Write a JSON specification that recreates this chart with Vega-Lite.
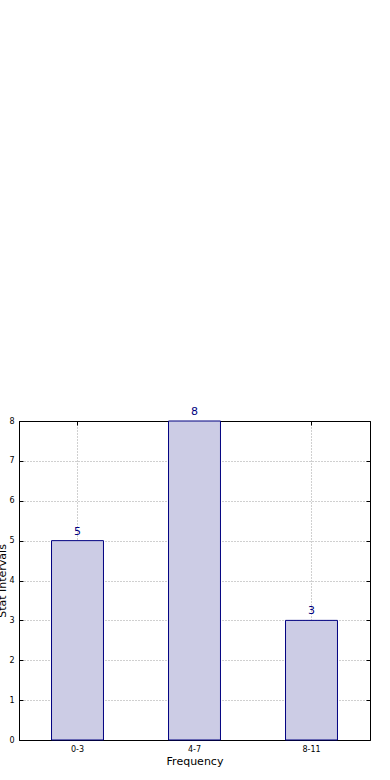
{
  "$schema": "https://vega.github.io/schema/vega-lite/v6.json",
  "autosize": {"type": "none"},
  "padding": {"left": 19, "top": 421, "right": 20, "bottom": 40},
  "width": 351,
  "height": 319,
  "data": {"values": [
    {"interval": "0-3", "count": 5},
    {"interval": "4-7", "count": 8},
    {"interval": "8-11", "count": 3}
  ]},
  "config": {
    "font": "DejaVu Sans",
    "view": {"stroke": "#000000", "strokeWidth": 1},
    "axis": {
      "domain": true,
      "domainColor": "#000000",
      "domainWidth": 1,
      "grid": false,
      "gridColor": "#a0a0a0",
      "gridDash": [1, 2],
      "gridWidth": 1,
      "tickColor": "#000000",
      "tickSize": -4,
      "labelColor": "#000000",
      "labelFontSize": 8,
      "titleFontSize": 11,
      "titleFontWeight": "normal",
      "titleColor": "#000000",
      "zindex": 1
    }
  },
  "resolve": {"axis": {"x": "independent", "y": "independent"}},
  "layer": [
    {
      "mark": {"type": "bar", "fill": "#ccccE5", "stroke": "#000080", "strokeWidth": 1},
      "encoding": {
        "x": {
          "field": "interval",
          "type": "nominal",
          "sort": null,
          "scale": {"paddingInner": 0.556, "paddingOuter": 0.278},
          "axis": {"title": "Frequency", "orient": "bottom", "grid": true, "labelAngle": 0, "labelPadding": 9, "titlePadding": 2}
        },
        "y": {
          "field": "count",
          "type": "quantitative",
          "scale": {"domain": [0, 8], "nice": false},
          "axis": {"title": "Stat Intervals", "orient": "left", "values": [0,1,2,3,4,5,6,7,8], "labelPadding": 9, "titlePadding": 1}
        }
      }
    },
    {
      "mark": {"type": "text", "color": "#000080", "fontSize": 11, "baseline": "bottom", "dy": -4},
      "encoding": {
        "x": {
          "field": "interval",
          "type": "nominal",
          "sort": null,
          "axis": {"title": null, "orient": "top", "labels": false, "grid": false}
        },
        "y": {
          "field": "count",
          "type": "quantitative",
          "axis": {"title": null, "orient": "right", "labels": false, "grid": true, "values": [1,2,3,4,5,6,7]}
        },
        "text": {"field": "count", "type": "quantitative"}
      }
    }
  ]
}
